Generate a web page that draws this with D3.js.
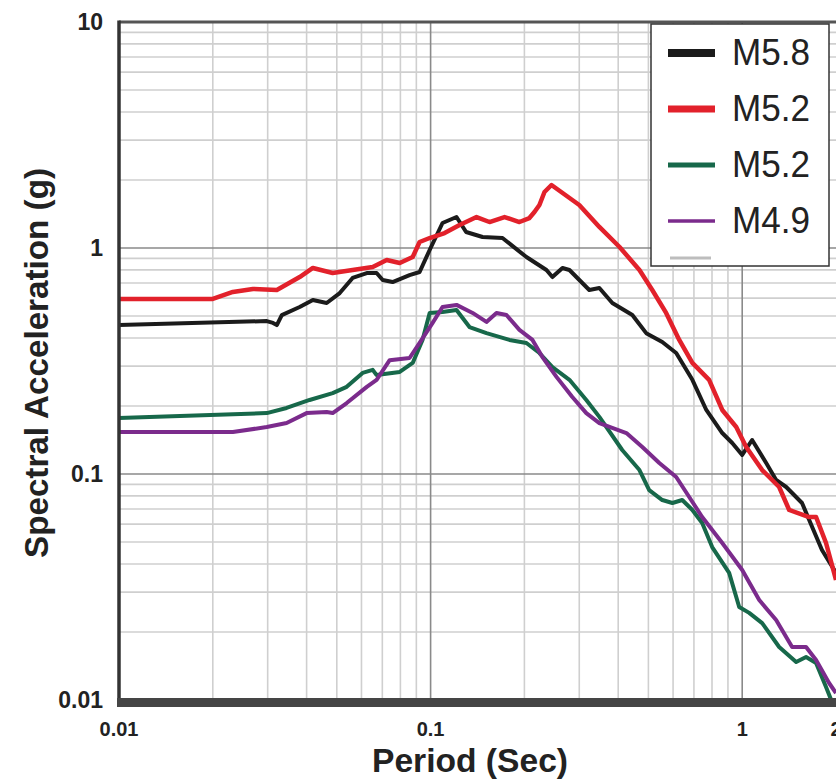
<!DOCTYPE html>
<html>
<head>
<meta charset="utf-8">
<script src="https://cdn.jsdelivr.net/npm/d3@7"></script>
<style>
  body { margin: 0; background: #fff; }
  svg { display: block; }
  text { font-family: "Liberation Sans", Arial, Helvetica, sans-serif; }
</style>
</head>
<body>
<div id="chart"></div>
<script>
// period (sec), spectral acceleration (g)
var m58 = [[0.01,0.456],[0.0298,0.475],[0.0312,0.466],[0.0321,0.456],[0.0333,0.505],[0.038,0.548],[0.0419,0.589],
  [0.0464,0.571],[0.0511,0.632],[0.0562,0.737],[0.0624,0.775],[0.0671,0.775],[0.0702,0.722],[0.0755,0.707],
  [0.0856,0.759],[0.0922,0.783],[0.0993,0.98],[0.1092,1.29],[0.1211,1.371],[0.130,1.177],[0.1468,1.119],
  [0.1701,1.107],[0.203,0.912],[0.2354,0.799],[0.246,0.744],[0.265,0.816],[0.279,0.799],[0.323,0.652],
  [0.348,0.665],[0.383,0.571],[0.444,0.505],[0.492,0.42],[0.554,0.384],[0.614,0.343],[0.692,0.261],
  [0.767,0.192],[0.863,0.1518],[0.929,0.1372],[1.0,0.1214],[1.076,0.1414],[1.194,0.1119],[1.285,0.0941],
  [1.384,0.0876],[1.556,0.0744],[1.677,0.0583],[1.803,0.0461],[2.0,0.0365]];
var m52a = [[0.01,0.595],[0.02,0.595],[0.0232,0.639],[0.0269,0.659],[0.0321,0.652],[0.038,0.744],[0.0419,0.816],
  [0.0485,0.775],[0.0562,0.799],[0.0652,0.824],[0.0723,0.885],[0.0796,0.858],[0.0876,0.912],[0.0922,1.063],
  [0.0993,1.107],[0.1109,1.165],[0.1239,1.264],[0.1404,1.371],[0.1545,1.303],[0.1727,1.371],[0.1928,1.303],
  [0.2075,1.357],[0.2154,1.443],[0.2235,1.55],[0.232,1.769],[0.2443,1.90],[0.300,1.55],[0.348,1.239],
  [0.404,1.01],[0.468,0.799],[0.5145,0.652],[0.570,0.516],[0.628,0.392],[0.692,0.31],[0.783,0.261],
  [0.863,0.192],[0.957,0.1614],[1.03,0.1317],[1.159,0.1041],[1.314,0.0876],[1.415,0.0693],[1.64,0.0645],
  [1.726,0.0645],[1.858,0.0495],[2.0,0.034]];
var m52b = [[0.01,0.177],[0.0298,0.186],[0.0345,0.196],[0.0409,0.2126],[0.0485,0.228],[0.0538,0.243],[0.0605,0.28],
  [0.0652,0.289],[0.0671,0.274],[0.0796,0.283],[0.0876,0.31],[0.0942,0.392],[0.0993,0.516],[0.1092,0.521],
  [0.1211,0.532],[0.1333,0.447],[0.1511,0.42],[0.1791,0.392],[0.203,0.38],[0.2235,0.343],[0.246,0.297],
  [0.279,0.261],[0.316,0.2126],[0.348,0.179],[0.412,0.1277],[0.468,0.1041],[0.503,0.0849],[0.554,0.0767],
  [0.597,0.0744],[0.642,0.0767],[0.692,0.0693],[0.744,0.0607],[0.801,0.0475],[0.908,0.0365],[0.978,0.0258],
  [1.053,0.0243],[1.159,0.0219],[1.314,0.01716],[1.49,0.01473],[1.603,0.0155],[1.726,0.01458],[1.858,0.01142],
  [1.93,0.01]];
var m49 = [[0.01,0.1533],[0.0232,0.1533],[0.0298,0.1614],[0.0345,0.168],[0.040,0.186],[0.0464,0.188],[0.0485,0.186],
  [0.0538,0.206],[0.0624,0.243],[0.0671,0.261],[0.0739,0.319],[0.0856,0.326],[0.0922,0.38],[0.1015,0.466],
  [0.1092,0.548],[0.1211,0.56],[0.1364,0.516],[0.1511,0.471],[0.1627,0.516],[0.1752,0.505],[0.1928,0.434],
  [0.2123,0.392],[0.2285,0.329],[0.2535,0.269],[0.285,0.219],[0.316,0.186],[0.348,0.168],[0.425,0.1518],
  [0.478,0.1317],[0.542,0.1119],[0.614,0.097],[0.676,0.0791],[0.744,0.0645],[0.863,0.0495],[1.0,0.0376],
  [1.134,0.0277],[1.285,0.0226],[1.446,0.01716],[1.603,0.01716],[1.726,0.01503],[1.90,0.01189],[2.0,0.01074]];

var seriesNames = ["M5.8", "M5.2", "M5.2", "M4.9"];
var seriesData = [m58, m52a, m52b, m49];
var xTicks = [0.01, 0.1, 1, 2];
var xTickLabels = ["0.01", "0.1", "1", "2"];
var yTicks = [0.01, 0.1, 1, 10];
var yTickLabels = ["0.01", "0.1", "1", "10"];

var colors = ["#1b1b1b", "#e2212b", "#17684a", "#7b2b8c"];
var lineWidths = [4, 4.5, 4, 4];
var legendWidths = [8, 7, 5, 3.5];

var W = 836, H = 782;
var margin = { top: 22, right: 0, bottom: 82, left: 119 };

var svg = d3.select("#chart").append("svg")
  .attr("width", W)
  .attr("height", H);

var x = d3.scaleLog().domain([0.01, 2]).range([margin.left, W - margin.right]);
var y = d3.scaleLog().domain([0.01, 10]).range([H - margin.bottom, margin.top]);

// grid: minor first, decades on top
var xMinor = [], yMinor = [];
[0.01, 0.1, 1].forEach(function (d) {
  for (var k = 2; k <= 9; k++) {
    if (d * k < 2) xMinor.push(d * k);
    yMinor.push(d * k);
  }
});

svg.append("g").selectAll("line").data(xMinor).enter().append("line")
  .attr("x1", function (d) { return x(d); }).attr("x2", function (d) { return x(d); })
  .attr("y1", y(10)).attr("y2", y(0.01))
  .attr("stroke", "#cfcfcf").attr("stroke-width", 1.6);
svg.append("g").selectAll("line").data(yMinor).enter().append("line")
  .attr("x1", x(0.01)).attr("x2", x(2))
  .attr("y1", function (d) { return y(d); }).attr("y2", function (d) { return y(d); })
  .attr("stroke", "#cfcfcf").attr("stroke-width", 1.6);
svg.append("g").selectAll("line").data([0.1, 1]).enter().append("line")
  .attr("x1", function (d) { return x(d); }).attr("x2", function (d) { return x(d); })
  .attr("y1", y(10)).attr("y2", y(0.01))
  .attr("stroke", "#8a8a8a").attr("stroke-width", 1.6);
svg.append("g").selectAll("line").data([0.1, 1]).enter().append("line")
  .attr("x1", x(0.01)).attr("x2", x(2))
  .attr("y1", function (d) { return y(d); }).attr("y2", function (d) { return y(d); })
  .attr("stroke", "#8a8a8a").attr("stroke-width", 1.6);

// curves
svg.append("clipPath").attr("id", "plotclip").append("rect")
  .attr("x", x(0.01)).attr("y", y(10))
  .attr("width", x(2) - x(0.01)).attr("height", y(0.01) - y(10));

var line = d3.line()
  .x(function (d) { return x(d[0]); })
  .y(function (d) { return y(d[1]); });

svg.append("g").attr("clip-path", "url(#plotclip)")
  .selectAll("path").data(seriesData).enter().append("path")
  .attr("d", line)
  .attr("fill", "none")
  .attr("stroke", function (d, i) { return colors[i]; })
  .attr("stroke-width", function (d, i) { return lineWidths[i]; })
  .attr("stroke-linejoin", "round");

// frame
svg.append("line")
  .attr("x1", x(0.01)).attr("x2", x(2))
  .attr("y1", y(10)).attr("y2", y(10))
  .attr("stroke", "#555").attr("stroke-width", 3);
svg.append("line")
  .attr("x1", x(0.01)).attr("x2", x(0.01))
  .attr("y1", y(10) - 1.5).attr("y2", y(0.01))
  .attr("stroke", "#333").attr("stroke-width", 3.5);
svg.append("rect")
  .attr("x", x(0.01) - 2).attr("y", y(0.01) - 2)
  .attr("width", x(2) - x(0.01) + 2).attr("height", 9)
  .attr("fill", "#454545");

// tick labels
svg.append("g").selectAll("text").data(yTicks).enter().append("text")
  .attr("x", x(0.01) - 16)
  .attr("y", function (d) { return y(d) + 8; })
  .attr("text-anchor", "end")
  .attr("font-size", "23px").attr("font-weight", "bold").attr("fill", "#222")
  .text(function (d, i) { return yTickLabels[i]; });

svg.append("g").selectAll("text").data(xTicks).enter().append("text")
  .attr("x", function (d) { return x(d); })
  .attr("y", y(0.01) + 36)
  .attr("text-anchor", "middle")
  .attr("font-size", "20px").attr("font-weight", "bold").attr("fill", "#222")
  .text(function (d, i) { return xTickLabels[i]; });

// axis titles
svg.append("text")
  .attr("x", 470).attr("y", 772)
  .attr("text-anchor", "middle")
  .attr("font-size", "34px").attr("font-weight", "bold").attr("fill", "#222")
  .attr("textLength", 196).attr("lengthAdjust", "spacingAndGlyphs")
  .text("Period (Sec)");

svg.append("text")
  .attr("transform", "translate(48,363) rotate(-90)")
  .attr("text-anchor", "middle")
  .attr("font-size", "34px").attr("font-weight", "bold").attr("fill", "#222")
  .attr("textLength", 390).attr("lengthAdjust", "spacingAndGlyphs")
  .text("Spectral Acceleration (g)");

// legend
var legend = svg.append("g");
legend.append("rect")
  .attr("x", 651).attr("y", 24)
  .attr("width", 178).attr("height", 242)
  .attr("fill", "#fff").attr("stroke", "#333").attr("stroke-width", 1.5);

var legendRows = seriesNames.map(function (d, i) { return i; });
legend.selectAll(".lgline").data(legendRows).enter().append("line")
  .attr("class", "lgline")
  .attr("x1", 668).attr("x2", 715)
  .attr("y1", function (d) { return 53 + d * 56; })
  .attr("y2", function (d) { return 53 + d * 56; })
  .attr("stroke", function (d) { return colors[d]; })
  .attr("stroke-width", function (d) { return legendWidths[d]; });
legend.selectAll(".lgtext").data(legendRows).enter().append("text")
  .attr("class", "lgtext")
  .attr("x", 732)
  .attr("y", function (d) { return 65 + d * 56; })
  .attr("font-size", "37px").attr("fill", "#222")
  .attr("textLength", 78).attr("lengthAdjust", "spacingAndGlyphs")
  .text(function (d) { return seriesNames[d]; });
legend.append("line")
  .attr("x1", 670).attr("x2", 711)
  .attr("y1", 258).attr("y2", 258)
  .attr("stroke", "#bdbdbd").attr("stroke-width", 3);
</script>
</body>
</html>
